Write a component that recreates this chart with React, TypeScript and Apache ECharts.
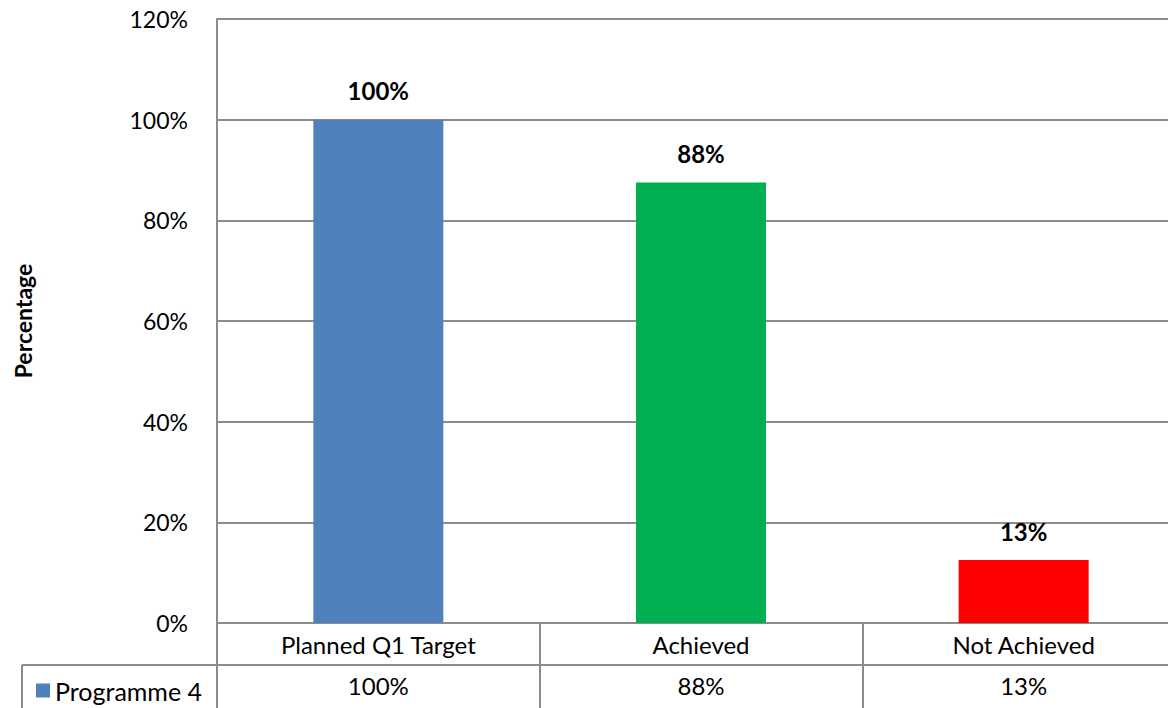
import React, { useEffect, useRef } from "react";
import * as echarts from "echarts";

const categories = ["Planned Q1 Target", "Achieved", "Not Achieved"];
const values = [100, 87.5, 12.5];
const barColors = ["#4f81bd", "#00b050", "#ff0000"];
const seriesName = "Programme 4";
const yTicks = [0, 20, 40, 60, 80, 100, 120];

const FONT = "Lato";

export default function App() {
  const ref = useRef<HTMLDivElement>(null);
  useEffect(() => {
    if (!ref.current) return;
    const chart = echarts.init(ref.current, null, { renderer: "svg" });
    const fmt = (v: number) => Math.round(v) + "%";
    chart.setOption({
      animation: false,
      textStyle: { fontFamily: FONT },
      grid: { left: 217, top: 19, right: 5, bottom: 85 },
      legend: {
        data: [seriesName],
        left: 31,
        top: 673,
        icon: "rect",
        itemWidth: 14,
        itemHeight: 14,
        itemGap: 6,
        textStyle: { fontFamily: FONT, fontSize: 25, color: "#000" },
      },
      xAxis: [
        {
          type: "category",
          data: categories,
          position: "bottom",
          axisLine: { show: true, lineStyle: { color: "#8c8c8c", width: 2 } },
          axisTick: { show: true, length: 42, lineStyle: { color: "#8c8c8c", width: 2 } },
          axisLabel: { fontSize: 24, color: "#000", margin: 9, fontFamily: FONT },
        },
        {
          type: "category",
          data: values.map(fmt),
          position: "bottom",
          offset: 42,
          axisLine: { show: true, lineStyle: { color: "#8c8c8c", width: 2 } },
          axisTick: { show: true, length: 44, lineStyle: { color: "#8c8c8c", width: 2 } },
          axisLabel: { fontSize: 24, color: "#000", margin: 8, fontFamily: FONT },
        },
      ],
      yAxis: {
        type: "value",
        min: 0,
        max: 120,
        interval: 20,
        name: "Percentage",
        nameLocation: "middle",
        nameGap: 183,
        nameRotate: 90,
        nameTextStyle: { fontSize: 23, fontWeight: "bold", color: "#000", fontFamily: FONT },
        axisLine: { show: true, lineStyle: { color: "#8c8c8c", width: 2 } },
        axisTick: { show: false },
        axisLabel: {
          fontSize: 23,
          color: "#000",
          margin: 29,
          fontFamily: FONT,
          formatter: (v: number) => (yTicks.includes(v) ? v + "%" : ""),
        },
        splitLine: { show: true, lineStyle: { color: "#8c8c8c", width: 2 } },
      },
      series: [
        {
          name: seriesName,
          type: "bar",
          xAxisIndex: 0,
          barWidth: 130,
          itemStyle: { color: barColors[0] },
          data: values.map((v, i) => ({ value: v, itemStyle: { color: barColors[i] } })),
          label: {
            show: true,
            position: "top",
            distance: 17,
            fontSize: 24,
            fontWeight: "bold",
            color: "#000",
            fontFamily: FONT,
            formatter: (p: any) => fmt(p.value),
          },
        },
      ],
      graphic: [
        {
          type: "line",
          shape: { x1: 22, y1: 665, x2: 217, y2: 665 },
          style: { stroke: "#8c8c8c", lineWidth: 2 },
        },
        {
          type: "line",
          shape: { x1: 22, y1: 665, x2: 22, y2: 710 },
          style: { stroke: "#8c8c8c", lineWidth: 2 },
        },
      ],
    });
    return () => chart.dispose();
  }, []);
  return (
    <div
      ref={ref}
      style={{ position: "fixed", left: 0, top: 0, width: 1190, height: 708, background: "#fff" }}
    />
  );
}
